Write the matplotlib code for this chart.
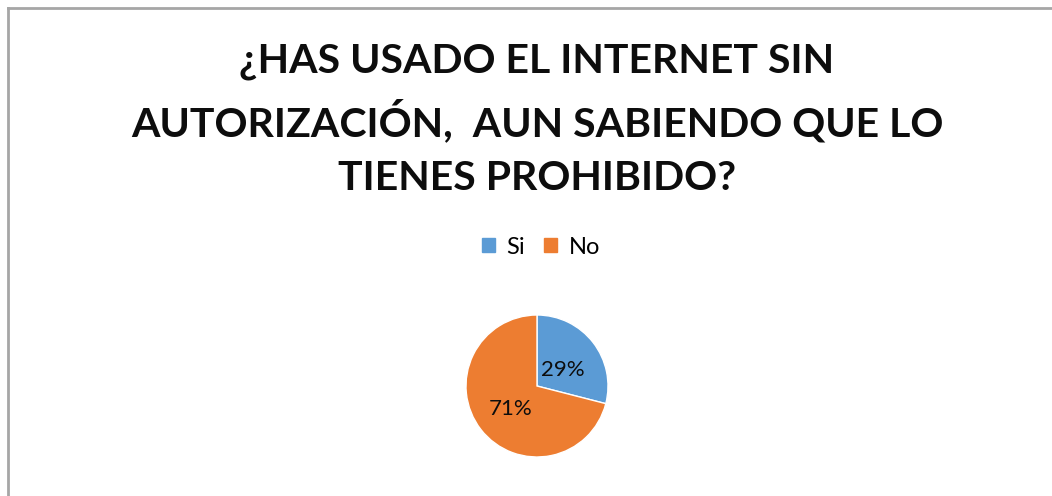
import matplotlib
matplotlib.use("Agg")
import matplotlib.pyplot as plt
from matplotlib.lines import Line2D
from matplotlib.patches import Patch

categories = ["Si", "No"]
values = [29, 71]
colors = ["#5B9BD5", "#ED7D31"]
title_lines = ["¿HAS USADO EL INTERNET SIN", "AUTORIZACIÓN,  AUN SABIENDO QUE LO", "TIENES PROHIBIDO?"]

W, H = 1052, 496
fig = plt.figure(figsize=(W / 100, H / 100), dpi=100)
fig.patch.set_facecolor("white")

# frame (cropped chart area border)
fig.add_artist(Line2D([8 / W, 8 / W], [0, 1 - 8 / H], transform=fig.transFigure, color="#A6A6A6", lw=2))
fig.add_artist(Line2D([8 / W, 1], [1 - 8 / H, 1 - 8 / H], transform=fig.transFigure, color="#A6A6A6", lw=2))

fam = ["Lato", "DejaVu Sans"]
for i, (line, y) in enumerate(zip(title_lines, [62, 121, 178])):
    fig.text(537 / W, 1 - y / H, line, ha="center", va="center", fontsize=29.5, fontweight="bold",
             family=fam, color="#0D0D0D")

cx, cy, r = 537, 386, 71
ax = fig.add_axes([(cx - r) / W, 1 - (cy + r) / H, 2 * r / W, 2 * r / H])
wedges, texts = ax.pie(values, colors=colors, startangle=90, counterclock=False,
                       wedgeprops=dict(edgecolor="white", linewidth=1))
ax.set_aspect("equal")
ax.set_xlim(-1, 1)
ax.set_ylim(-1, 1)
labels = [f"{v}%" for v in values]
ax.text(0.37, 0.22, labels[0], ha="center", va="center", fontsize=16, family=fam, color="#0D0D0D")
ax.text(-0.37, -0.32, labels[1], ha="center", va="center", fontsize=16, family=fam, color="#0D0D0D")

handles = [Patch(facecolor=c, edgecolor=c) for c in colors]
fig.legend(handles, categories, loc="center", bbox_to_anchor=(541 / W, 1 - 247 / H), ncol=2,
           frameon=False, prop=dict(family="Lato", size=17), handlelength=0.55, handleheight=0.55,
           handletextpad=0.5, columnspacing=0.8)

fig.savefig("out.png", dpi=100, facecolor="white")
